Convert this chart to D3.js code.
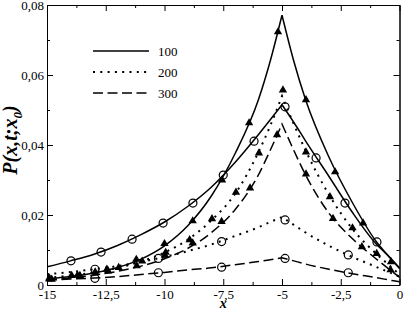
<!DOCTYPE html>
<html>
<head>
<meta charset="utf-8">
<script src="https://cdn.jsdelivr.net/npm/d3@7"></script>
<style>
  body { margin: 0; background: #fff; }
  svg text { font-family: "Liberation Serif", "Times New Roman", Times, "Nimbus Roman", serif; fill: #000; }
  .axis text { font-size: 13px; }
  .axis path, .axis line { stroke: #000; stroke-width: 1; }
</style>
</head>
<body>
<div id="chart"></div>
<script>
// x grid for the curves (peak at x0 = -5)
var gridX = [-15, -14, -13, -12, -11, -10, -9, -8, -7, -6, -5.5, -5, -4.5, -4, -3, -2, -1, -0.5, 0];

// curve values, t = 100 / 200 / 300
var solidTri = [0.0017, 0.0024, 0.0034, 0.0050, 0.0074, 0.0112, 0.0170, 0.0255, 0.0375, 0.0530, 0.0640, 0.0771, 0.0640, 0.0530, 0.0365, 0.0235, 0.0125, 0.0085, 0.0047];
var solidCirc = [0.0052, 0.0069, 0.0088, 0.0113, 0.0144, 0.0180, 0.0225, 0.0280, 0.0350, 0.0430, 0.0472, 0.0515, 0.0465, 0.0412, 0.0310, 0.0207, 0.0118, 0.0085, 0.0049];
var dotTri = [0.0020, 0.0027, 0.0036, 0.0049, 0.0067, 0.0093, 0.0130, 0.0185, 0.0260, 0.0380, 0.0455, 0.0540, 0.0460, 0.0385, 0.0258, 0.0160, 0.0090, 0.0060, 0.0030];
var dotCirc = [0.0031, 0.0037, 0.0045, 0.0054, 0.0066, 0.0080, 0.0097, 0.0116, 0.0140, 0.0165, 0.0180, 0.0194, 0.0172, 0.0150, 0.0112, 0.0080, 0.0052, 0.0038, 0.0024];
var dashTri = [0.0014, 0.0020, 0.0028, 0.0039, 0.0054, 0.0075, 0.0105, 0.0150, 0.0215, 0.0315, 0.0385, 0.0460, 0.0385, 0.0315, 0.0205, 0.0132, 0.0075, 0.0048, 0.0022];
var dashCirc = [0.0014, 0.0017, 0.0020, 0.0024, 0.0030, 0.0036, 0.0043, 0.0049, 0.0058, 0.0067, 0.0072, 0.0078, 0.0069, 0.0060, 0.0045, 0.0032, 0.0021, 0.0015, 0.0009];

// simulation points (triangles and circles)
var solidTriX = [-14.9, -13.7, -12.45, -11.2, -10.0, -8.8, -7.55, -6.4, -5.17, -3.98, -2.74, -1.55, -0.36];
var solidTriY = [0.0017, 0.0028, 0.0045, 0.0073, 0.0118, 0.0183, 0.0300, 0.0463, 0.0723, 0.0529, 0.0323, 0.0177, 0.0066];
var dotTriX = [-14.9, -13.95, -12.95, -11.95, -10.95, -9.95, -8.93, -7.98, -6.96, -5.98, -4.96, -3.98, -2.96, -2.0, -0.97];
var dotTriY = [0.0020, 0.0027, 0.0037, 0.0050, 0.0068, 0.0093, 0.0129, 0.0189, 0.0265, 0.0377, 0.0557, 0.0380, 0.0252, 0.0163, 0.0090];
var dashTriX = [-14.8, -13.6, -12.4, -11.18, -9.98, -8.8, -7.57, -6.36, -5.21, -3.98, -2.83, -1.6, -0.38];
var dashTriY = [0.0016, 0.0027, 0.0040, 0.0055, 0.0085, 0.0120, 0.0181, 0.0277, 0.0429, 0.0317, 0.0190, 0.0109, 0.0043];
var solidCircX = [-13.98, -12.7, -11.38, -10.06, -8.79, -7.5, -6.19, -4.87, -3.55, -2.32, -0.96];
var solidCircY = [0.0069, 0.0094, 0.0131, 0.0177, 0.0234, 0.0314, 0.0411, 0.0509, 0.0363, 0.0234, 0.0123];
var dotCircX = [-12.96, -10.26, -7.57, -4.87, -2.18];
var dotCircY = [0.0045, 0.0076, 0.0124, 0.0186, 0.0086];
var dashCircX = [-12.96, -10.26, -7.57, -4.87, -2.18];
var dashCircY = [0.0019, 0.0035, 0.0051, 0.0076, 0.0035];

// tick labels and legend
var xMajor = [-15, -12.5, -10, -7.5, -5, -2.5, 0];
var xMinor = [-13.75, -11.25, -8.75, -6.25, -3.75, -1.25];
var yMajor = [0, 0.02, 0.04, 0.06, 0.08];
var yMinor = [0.01, 0.03, 0.05, 0.07];
var legendLabels = ["100", "200", "300"];

// Chart Params
var svgWidth = 404;
var svgHeight = 311;
var margin = { top: 5, right: 4.5, bottom: 26, left: 47 };
var width = svgWidth - margin.left - margin.right;
var height = svgHeight - margin.top - margin.bottom;

var serif = '"Liberation Serif", "Times New Roman", Times, serif';

var svg = d3.select("#chart")
  .append("svg")
  .attr("width", svgWidth)
  .attr("height", svgHeight);

var chartGroup = svg.append("g")
  .attr("transform", `translate(${margin.left}, ${margin.top})`);

var xScale = d3.scaleLinear().domain([-15, 0]).range([0, width]);
var yScale = d3.scaleLinear().domain([0, 0.08]).range([height, 0]);

// comma decimals, plain hyphen for minus
var fmt = d => String(d).replace(".", ",");

// major axes (ticks point inward)
chartGroup.append("g").attr("class", "axis")
  .attr("transform", `translate(0, ${height})`)
  .call(d3.axisBottom(xScale).tickValues(xMajor).tickFormat(fmt).tickSizeInner(-6).tickSizeOuter(0).tickPadding(5))
  .attr("font-family", serif);
chartGroup.append("g").attr("class", "axis")
  .call(d3.axisLeft(yScale).tickValues(yMajor).tickFormat(fmt).tickSizeInner(-6).tickSizeOuter(0).tickPadding(3))
  .attr("font-family", serif);
chartGroup.append("g").attr("class", "axis")
  .call(d3.axisTop(xScale).tickValues(xMajor).tickFormat("").tickSizeInner(-6).tickSizeOuter(0));
chartGroup.append("g").attr("class", "axis")
  .attr("transform", `translate(${width}, 0)`)
  .call(d3.axisRight(yScale).tickValues(yMajor).tickFormat("").tickSizeInner(-6).tickSizeOuter(0));

// minor ticks
chartGroup.append("g").attr("class", "axis")
  .attr("transform", `translate(0, ${height})`)
  .call(d3.axisBottom(xScale).tickValues(xMinor).tickFormat("").tickSizeInner(-3).tickSizeOuter(0));
chartGroup.append("g").attr("class", "axis")
  .call(d3.axisTop(xScale).tickValues(xMinor).tickFormat("").tickSizeInner(-3).tickSizeOuter(0));
chartGroup.append("g").attr("class", "axis")
  .call(d3.axisLeft(yScale).tickValues(yMinor).tickFormat("").tickSizeInner(-3).tickSizeOuter(0));
chartGroup.append("g").attr("class", "axis")
  .attr("transform", `translate(${width}, 0)`)
  .call(d3.axisRight(yScale).tickValues(yMinor).tickFormat("").tickSizeInner(-3).tickSizeOuter(0));

// line styles
var styles = {
  solid: { w: 1.5, dash: null },
  dot: { w: 2, dash: "2,5.3" },
  dash: { w: 1.5, dash: "10,4.5" }
};

var lineGen = d3.line()
  .x(d => xScale(d[0]))
  .y(d => yScale(d[1]))
  .curve(d3.curveMonotoneX);

// draw each curve as two halves so the peak stays a cusp
function drawCurve(vals, style) {
  var pts = gridX.map((x, i) => [x, vals[i]]);
  var left = pts.filter(p => p[0] <= -5);
  var right = pts.filter(p => p[0] >= -5);
  chartGroup.append("path")
    .attr("d", lineGen(left) + lineGen(right).replace("M", "L"))
    .attr("fill", "none")
    .attr("stroke", "#000")
    .attr("stroke-width", styles[style].w)
    .attr("stroke-dasharray", styles[style].dash);
}

drawCurve(dashCirc, "dash");
drawCurve(dotCirc, "dot");
drawCurve(dashTri, "dash");
drawCurve(dotTri, "dot");
drawCurve(solidCirc, "solid");
drawCurve(solidTri, "solid");

// triangle markers
var tri = d3.symbol().type(d3.symbolTriangle).size(30);
function drawTriangles(xs, ys) {
  chartGroup.append("g").selectAll("path")
    .data(xs.map((x, i) => [x, ys[i]]))
    .enter()
    .append("path")
    .attr("d", tri)
    .attr("transform", d => `translate(${xScale(d[0])}, ${yScale(d[1])})`)
    .attr("fill", "#000");
}

function drawCircles(xs, ys) {
  chartGroup.append("g").selectAll("circle")
    .data(xs.map((x, i) => [x, ys[i]]))
    .enter()
    .append("circle")
    .attr("cx", d => xScale(d[0]))
    .attr("cy", d => yScale(d[1]))
    .attr("r", 4)
    .attr("fill", "none")
    .attr("stroke", "#000")
    .attr("stroke-width", 1.2);
}

drawTriangles(solidTriX, solidTriY);
drawTriangles(dotTriX, dotTriY);
drawTriangles(dashTriX, dashTriY);
drawCircles(solidCircX, solidCircY);
drawCircles(dotCircX, dotCircY);
drawCircles(dashCircX, dashCircY);

// legend
var legendStyles = ["solid", "dot", "dash"];
legendLabels.forEach(function(lbl, i) {
  var ly = 46 + i * 21;
  chartGroup.append("line")
    .attr("x1", 46).attr("x2", 102)
    .attr("y1", ly).attr("y2", ly)
    .attr("stroke", "#000")
    .attr("stroke-width", styles[legendStyles[i]].w)
    .attr("stroke-dasharray", styles[legendStyles[i]].dash);
  chartGroup.append("text")
    .attr("x", 111)
    .attr("y", ly + 4.5)
    .style("font-family", serif)
    .style("font-size", "13px")
    .text(lbl);
});

// axis titles
chartGroup.append("text")
  .attr("text-anchor", "middle")
  .attr("x", width / 2)
  .attr("y", height + 23)
  .style("font-family", serif)
  .style("font-size", "14px")
  .style("font-weight", "bold")
  .style("font-style", "italic")
  .text("x");

var yTitle = chartGroup.append("text")
  .attr("text-anchor", "middle")
  .attr("transform", `translate(-30, 135)rotate(-90)`)
  .style("font-family", serif)
  .style("font-size", "20px")
  .style("font-weight", "bold")
  .style("font-style", "italic");
yTitle.append("tspan").text("P(x,t;x");
yTitle.append("tspan").attr("dy", 5).style("font-size", "13px").text("0");
yTitle.append("tspan").attr("dy", -5).text(")");
</script>
</body>
</html>
